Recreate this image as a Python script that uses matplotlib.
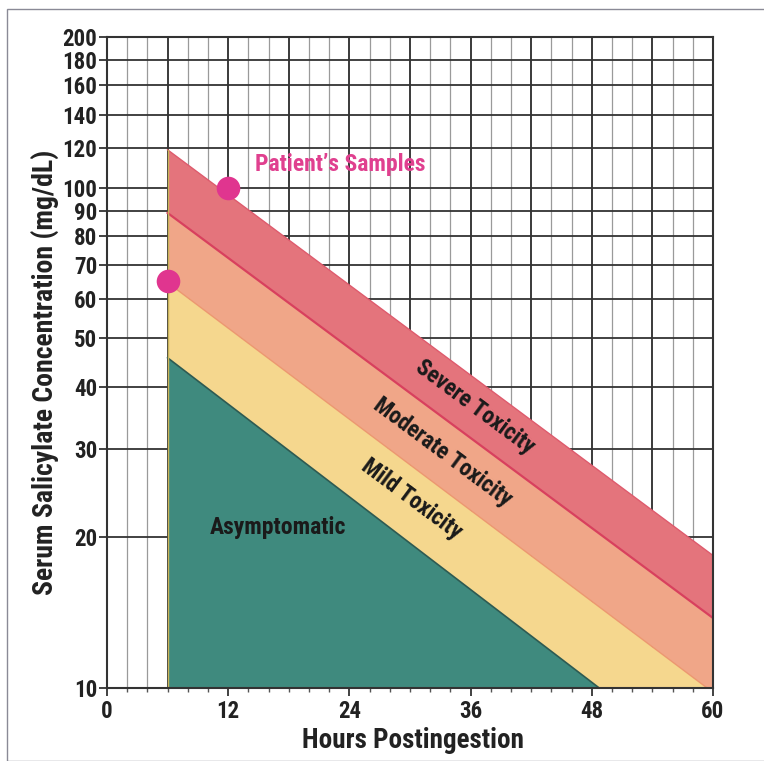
import numpy as np
import matplotlib
matplotlib.use("Agg")
import matplotlib.pyplot as plt
from matplotlib.patches import Rectangle

# ---- data ----
band_x = [6, 60]                      # hours where the bands start / end
severe_top = [119, 18.4]              # mg/dL
severe_moderate = [89, 13.8]
moderate_mild = [64.6, 9.8]
mild_asymptomatic = [45.7, 6.7]
floor_level = [10, 10]

sample_hours = [6, 12]
sample_conc = [65, 100]

x_ticks = [0, 12, 24, 36, 48, 60]
y_ticks = [10, 20, 30, 40, 50, 60, 70, 80, 90, 100, 120, 140, 160, 180, 200]

FONT = ['Liberation Sans Narrow', 'Roboto Condensed', 'DejaVu Sans']
plt.rcParams['font.family'] = FONT
plt.rcParams['font.weight'] = 'bold'

W, H = 764, 761
fig = plt.figure(figsize=(W / 100, H / 100), dpi=100)
ax = fig.add_axes([107 / W, (H - 688) / H, (713 - 107) / W, (688 - 37) / H])
ax.set_yscale('log')
ax.set_xlim(0, 60)
ax.set_ylim(10, 200)

# outer frame of the picture
fig.patches.append(Rectangle((7 / W, 0), 2, (H - 9) / H, transform=fig.transFigure,
                             fill=False, edgecolor='#8a8a96', lw=1.0))

# grid
for h in range(2, 60, 2):
    major = (h % 6 == 0)
    ax.axvline(h, color='#3a3a3a' if major else '#9a9a9a',
               lw=1.4 if major else 0.9, zorder=1)
for v in y_ticks[1:-1]:
    ax.axhline(v, color='#333333', lw=1.3, zorder=1)

# bands
c_sev, c_mod, c_mild, c_asym = '#E4747C', '#F0A688', '#F5D78E', '#3F8A7E'
ax.fill_between(band_x, floor_level, mild_asymptomatic, color=c_asym, lw=0, zorder=2)
ax.fill_between(band_x, mild_asymptomatic, moderate_mild, color=c_mild, lw=0, zorder=2)
ax.fill_between(band_x, moderate_mild, severe_moderate, color=c_mod, lw=0, zorder=2)
ax.fill_between(band_x, severe_moderate, severe_top, color=c_sev, lw=0, zorder=2)
ax.plot(band_x, mild_asymptomatic, color='#2d5a52', lw=1.2, zorder=3)
ax.plot(band_x, moderate_mild, color='#EC9870', lw=1.0, zorder=3)
ax.plot(band_x, severe_moderate, color='#D8405E', lw=1.6, zorder=3)
ax.plot(band_x, severe_top, color='#DE5A6C', lw=1.0, zorder=3)
ax.plot([band_x[0]] * 2, [floor_level[0], severe_top[0]], color='#C9B45A', lw=1.0, zorder=3)
ax.plot([band_x[1]] * 2, [floor_level[1], severe_top[1]], color='#D8405E', lw=1.0, zorder=3)

# patient samples
ax.plot(sample_hours, sample_conc, 'o', color='#E0358F', ms=17, mew=0, zorder=5,
        clip_on=False)
ax.text(14.7, 111, "Patient\u2019s Samples", color='#E0408F', fontsize=17,
        fontweight='bold', ha='left', va='center', zorder=6)

# band labels, rotated along the bands
fig.canvas.draw()
p0 = ax.transData.transform((band_x[0], severe_moderate[0]))
p1 = ax.transData.transform((band_x[1], severe_moderate[1]))
ang = np.degrees(np.arctan2(p1[1] - p0[1], p1[0] - p0[0]))
ax.text(36.4, 36.5, "Severe Toxicity", rotation=ang, rotation_mode='anchor',
        ha='center', va='center', fontsize=16.5, color='#1a1a1a', zorder=6)
ax.text(33.2, 29.6, "Moderate Toxicity", rotation=ang, rotation_mode='anchor',
        ha='center', va='center', fontsize=16.5, color='#1a1a1a', zorder=6)
ax.text(30.2, 23.8, "Mild Toxicity", rotation=ang, rotation_mode='anchor',
        ha='center', va='center', fontsize=16.5, color='#1a1a1a', zorder=6)
ax.text(16.9, 20.9, "Asymptomatic", ha='center', va='center', fontsize=17,
        color='#1a1a1a', zorder=6)

# ticks
ax.set_yticks(y_ticks)
ax.set_yticklabels([str(v) for v in y_ticks])
ax.yaxis.set_minor_locator(matplotlib.ticker.NullLocator())
ax.set_xticks(x_ticks)
ax.set_xticklabels([str(v) for v in x_ticks])
ax.set_xticks(range(0, 61, 2), minor=True)
ax.tick_params(axis='y', which='major', length=6, width=1.3, color='#333333',
               labelsize=16.5, pad=1, labelcolor='#222222')
ax.tick_params(axis='x', which='major', length=6, width=1.3, color='#333333',
               labelsize=16.5, pad=3, labelcolor='#222222')
ax.tick_params(axis='x', which='minor', length=3, width=1.0, color='#555555')
for s in ax.spines.values():
    s.set_color('#333333')
    s.set_linewidth(1.5)
    s.set_zorder(4)

fig.text(45 / W, 1 - 372 / H, "Serum Salicylate Concentration (mg/dL)", rotation=90,
         ha='center', va='center', fontsize=20, color='#222222')
fig.text(413 / W, 1 - 740 / H, "Hours Postingestion", ha='center', va='center',
         fontsize=19.5, color='#222222')

fig.savefig('out.png', dpi=100)
